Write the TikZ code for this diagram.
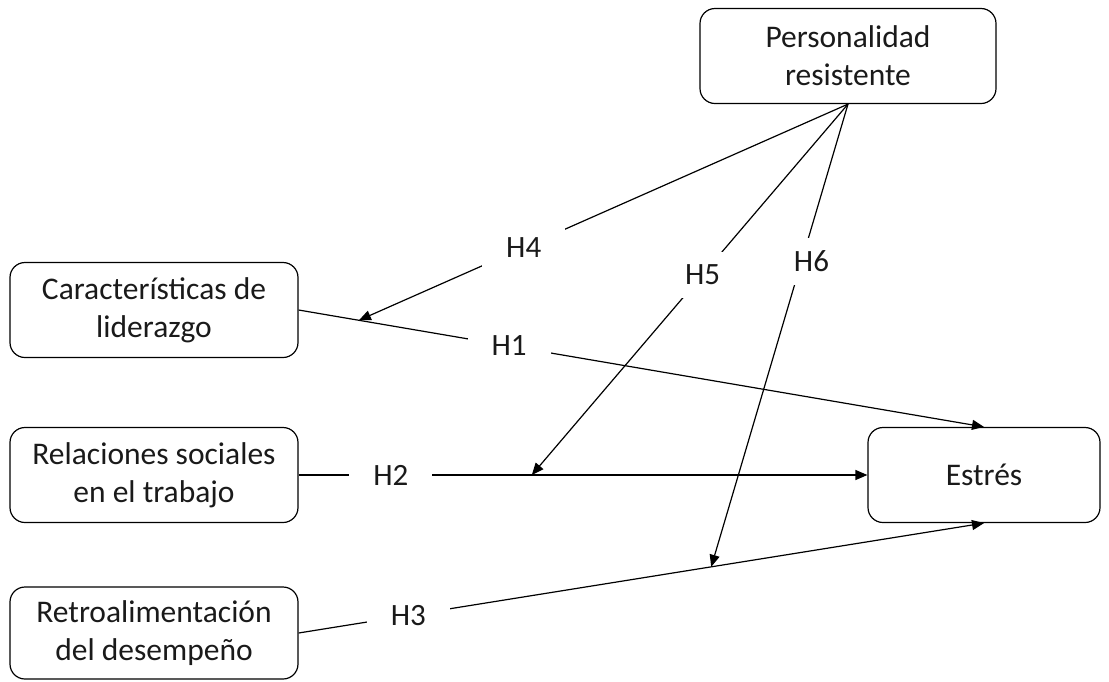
\documentclass[tikz,border=0pt]{standalone}
\usepackage{fontspec}
\setmainfont{Carlito}
\usetikzlibrary{arrows.meta,calc}
\definecolor{txt}{HTML}{1A1A1A}
\begin{document}
\begin{tikzpicture}[x=1pt,y=-1pt,
  box/.style={draw, rounded corners=15pt, line width=1.2pt, align=center,
    minimum width=#1, minimum height=95pt, inner sep=0pt, text=txt,
    font=\fontsize{31.5}{38}\selectfont},
  box/.default=288pt,
  arr/.style={line width=1.2pt, -{Triangle[length=12pt,width=10pt]}},
  hlab/.style={fill=white, inner xsep=24pt, inner ysep=13pt, text=txt,
    font=\fontsize{31}{36}\selectfont}]
\useasboundingbox (0,0) rectangle (1109,681);

\node[box=296pt] (pers) at (848,56) {Personalidad\\resistente};
\node[box] (lid) at (154,310) {Características de\\liderazgo};
\node[box] (rel) at (154,475) {Relaciones sociales\\en el trabajo};
\node[box, minimum height=92pt] (ret) at (154,633) {Retroalimentación\\del desempeño};
\node[box=232pt] (est) at (984,475) {Estrés};

% main paths
\draw[arr] (lid.east) -- node[hlab, pos=0.307] (h1) {H1} (est.north);
\draw[arr] (rel.east) -- node[hlab, pos=0.171, xshift=-5pt] (h2) {H2} (est.west);
\draw[arr] (ret.east) -- node[hlab, pos=0.16] (h3) {H3} (est.south);

% moderation targets
\coordinate (c4) at ($(lid.east)!0.088!(est.north)$);
\coordinate (c5) at ($(rel.east)!0.41!(est.west)$);
\coordinate (c6) at ($(ret.east)!0.602!(est.south)$);

\draw[arr] (pers.south) -- node[hlab, pos=0.663] (h4) {H4} (c4);
\draw[arr] (pers.south) -- node[hlab, pos=0.46] (h5) {H5} (c5);
\draw[arr] (pers.south) -- node[hlab, pos=0.34, xshift=10pt] (h6) {H6} (c6);
\end{tikzpicture}
\end{document}
